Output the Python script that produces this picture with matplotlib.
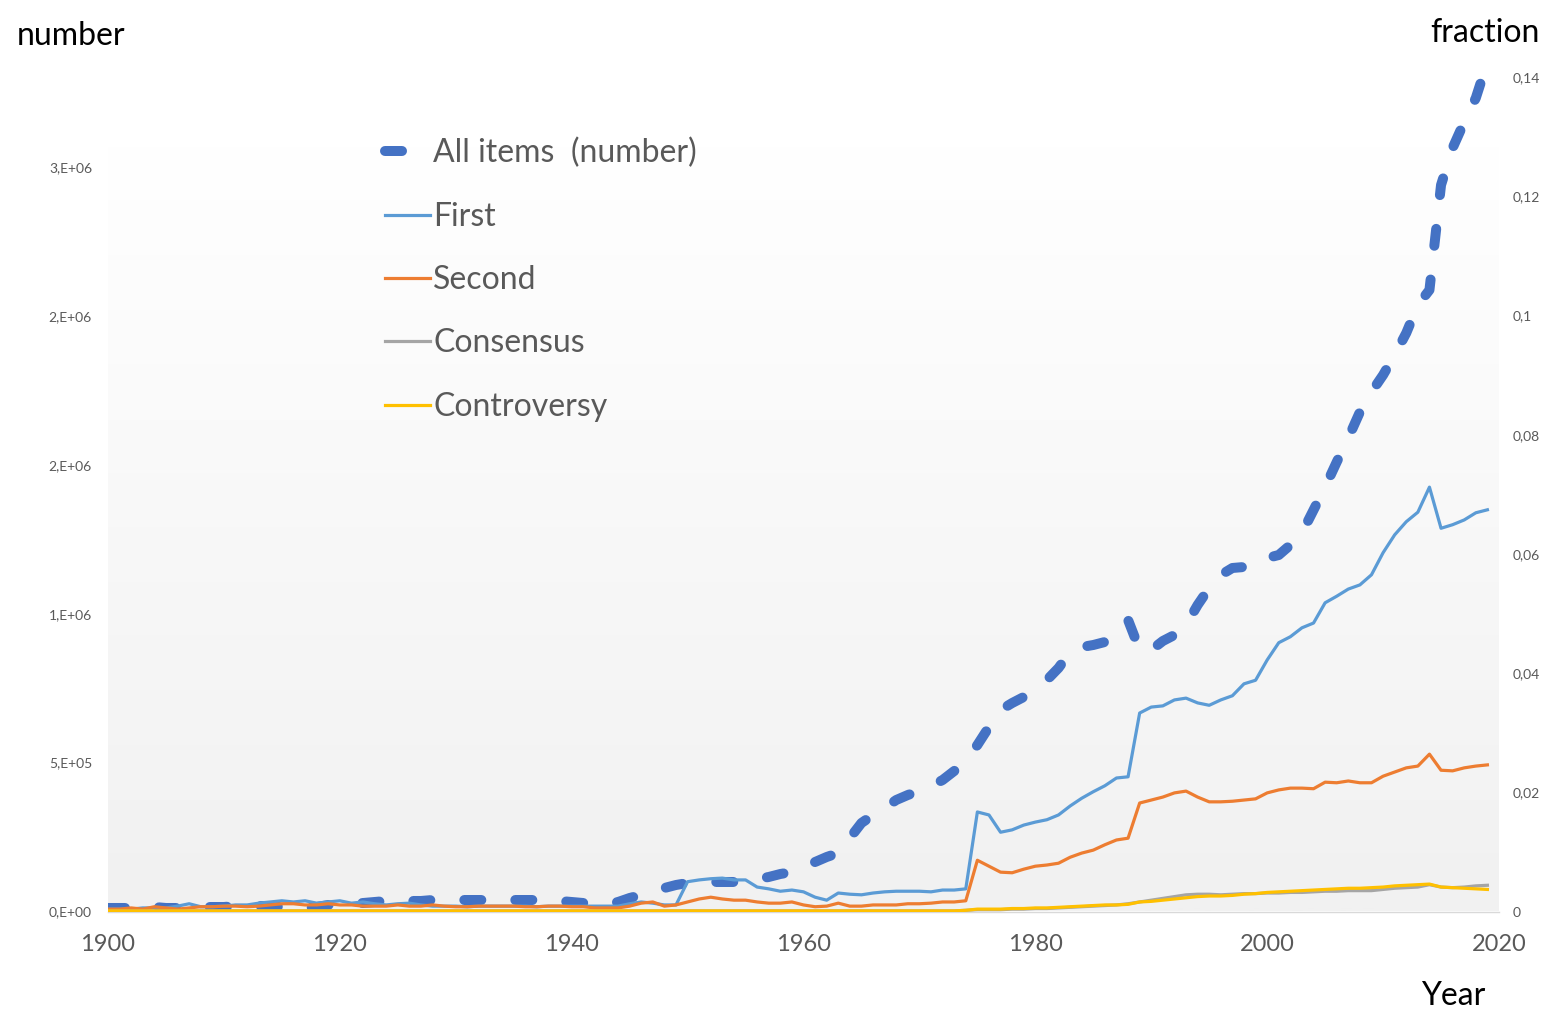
import matplotlib
matplotlib.use("Agg")
import matplotlib.pyplot as plt
import numpy as np
from matplotlib.lines import Line2D
from matplotlib.colors import LinearSegmentedColormap

plt.rcParams['font.family'] = ['Lato', 'DejaVu Sans']

# ---------------- data ----------------
years = list(range(1900, 2020))

all_items = [
    11800, 11800, 11800, 11800, 15100, 11800, 11800, 15100, 15100, 15100,   # 1900-1909
    15100, 18500, 18500, 18500, 18500, 15100, 11800, 11800, 15100, 21800,   # 1910-1919
    25200, 28500, 28500, 31900, 35300, 35300, 35300, 35300, 38600, 38600,   # 1920-1929
    38600, 38600, 38600, 38600, 38600, 38600, 38600, 38600, 38600, 35300,   # 1930-1939
    31900, 28500, 25200, 25200, 31900, 45300, 55400, 68800, 78900, 89000,   # 1940-1949
    95700, 99100, 99100, 99100, 99100, 102400, 109100, 115900, 125900, 132600,  # 1950-1959
    142700, 166200, 183000, 196400, 246800, 297200, 324000, 347600, 374400, 391200,  # 1960-1969
    404700, 421400, 441600, 471800, 508700, 559100, 619500, 676600, 700100, 720300,  # 1970-1979
    743800, 777400, 817700, 871400, 888200, 894900, 905000, 945300, 978900, 878100,  # 1980-1989
    878100, 908300, 928500, 962100, 1029200, 1086300, 1130000, 1153500, 1156800, 1163500,  # 1990-1999
    1187000, 1197100, 1230700, 1271000, 1348200, 1425400, 1509400, 1590000, 1677300, 1744400,  # 2000-2009
    1801500, 1868700, 1942600, 2036600, 2087000, 2439600, 2563900, 2651200, 2731800, 2852700,  # 2010-2019
]

first = [
    0.0004, 0.0004, 0.0004, 0.0006, 0.0006, 0.0006, 0.0009, 0.0013, 0.0008, 0.0008,
    0.0009, 0.0011, 0.0011, 0.0014, 0.0016, 0.0018, 0.0016, 0.0018, 0.0014, 0.0016,
    0.0018, 0.0014, 0.0016, 0.0013, 0.0011, 0.0013, 0.0014, 0.0011, 0.0009, 0.0009,
    0.0009, 0.0008, 0.0009, 0.0009, 0.0009, 0.0009, 0.0009, 0.0008, 0.0009, 0.0009,
    0.0009, 0.0009, 0.0009, 0.0009, 0.0009, 0.0013, 0.0016, 0.0014, 0.0011, 0.0011,
    0.0050, 0.0053, 0.0055, 0.0056, 0.0053, 0.0053, 0.0041, 0.0038, 0.0034, 0.0036,
    0.0033, 0.0024, 0.0019, 0.0031, 0.0029, 0.0028, 0.0031, 0.0033, 0.0034, 0.0034,
    0.0034, 0.0033, 0.0036, 0.0036, 0.0038, 0.0167, 0.0162, 0.0133, 0.0137, 0.0145,
    0.0150, 0.0154, 0.0162, 0.0177, 0.0190, 0.0201, 0.0211, 0.0224, 0.0226, 0.0333,
    0.0343, 0.0345, 0.0355, 0.0358, 0.0350, 0.0346, 0.0355, 0.0362, 0.0382, 0.0388,
    0.0422, 0.0451, 0.0461, 0.0476, 0.0484, 0.0518, 0.0529, 0.0541, 0.0548, 0.0565,
    0.0602, 0.0632, 0.0654, 0.0670, 0.0712, 0.0643, 0.0649, 0.0657, 0.0669, 0.0674,
]

second = [
    0.0004, 0.0004, 0.0006, 0.0004, 0.0008, 0.0006, 0.0004, 0.0006, 0.0008, 0.0008,
    0.0009, 0.0009, 0.0008, 0.0009, 0.0011, 0.0013, 0.0013, 0.0011, 0.0011, 0.0013,
    0.0011, 0.0011, 0.0009, 0.0009, 0.0009, 0.0011, 0.0009, 0.0009, 0.0011, 0.0009,
    0.0008, 0.0008, 0.0009, 0.0009, 0.0009, 0.0009, 0.0008, 0.0008, 0.0009, 0.0009,
    0.0008, 0.0008, 0.0006, 0.0006, 0.0006, 0.0009, 0.0014, 0.0016, 0.0009, 0.0011,
    0.0016, 0.0021, 0.0024, 0.0021, 0.0019, 0.0019, 0.0016, 0.0014, 0.0014, 0.0016,
    0.0011, 0.0008, 0.0009, 0.0014, 0.0009, 0.0009, 0.0011, 0.0011, 0.0011, 0.0013,
    0.0013, 0.0014, 0.0016, 0.0016, 0.0018, 0.0086, 0.0076, 0.0066, 0.0065, 0.0071,
    0.0076, 0.0078, 0.0081, 0.0091, 0.0098, 0.0103, 0.0112, 0.0120, 0.0123, 0.0182,
    0.0187, 0.0192, 0.0199, 0.0202, 0.0192, 0.0184, 0.0184, 0.0185, 0.0187, 0.0189,
    0.0199, 0.0204, 0.0207, 0.0207, 0.0206, 0.0217, 0.0216, 0.0219, 0.0216, 0.0216,
    0.0227, 0.0234, 0.0241, 0.0244, 0.0264, 0.0237, 0.0236, 0.0241, 0.0244, 0.0246,
]

consensus = [0.0001] * 74 + [
    0.0002, 0.0003, 0.0003, 0.0003, 0.0004, 0.0004,                          # 1974-1979
    0.0005, 0.0005, 0.0006, 0.0007, 0.0008, 0.0009, 0.0010, 0.0011, 0.0013, 0.0016,  # 1980-1989
    0.0019, 0.0022, 0.0025, 0.0028, 0.0029, 0.0029, 0.0028, 0.0029, 0.0030, 0.0030,  # 1990-1999
    0.0031, 0.0031, 0.0032, 0.0032, 0.0033, 0.0034, 0.0034, 0.0035, 0.0035, 0.0035,  # 2000-2009
    0.0037, 0.0039, 0.0040, 0.0041, 0.0045, 0.0041, 0.0040, 0.0041, 0.0043, 0.0044,  # 2010-2019
]

controversy = [0.0001] * 74 + [
    0.0002, 0.0004, 0.0004, 0.0004, 0.0005, 0.0005,
    0.0006, 0.0006, 0.0007, 0.0008, 0.0009, 0.0010, 0.0011, 0.0011, 0.0012, 0.0016,
    0.0017, 0.0019, 0.0021, 0.0023, 0.0025, 0.0026, 0.0026, 0.0027, 0.0029, 0.0030,
    0.0032, 0.0033, 0.0034, 0.0035, 0.0036, 0.0037, 0.0038, 0.0039, 0.0039, 0.0040,
    0.0041, 0.0043, 0.0044, 0.0045, 0.0046, 0.0041, 0.0040, 0.0039, 0.0038, 0.0037,
]

series_names = ["All items  (number)", "First", "Second", "Consensus", "Controversy"]

x_ticks = [1900, 1920, 1940, 1960, 1980, 2000, 2020]
left_ticks = [0, 500000, 1000000, 1500000, 2000000, 2500000]
left_tick_labels = ["0,E+00", "5,E+05", "1,E+06", "2,E+06", "2,E+06", "3,E+06"]
right_ticks = [0, 0.02, 0.04, 0.06, 0.08, 0.10, 0.12, 0.14]
right_tick_labels = ["0", "0,02", "0,04", "0,06", "0,08", "0,1", "0,12", "0,14"]

# ---------------- figure ----------------
W, H = 1559, 1022
fig = plt.figure(figsize=(W / 100, H / 100), dpi=100)

ax_left, ax_right_px, ax_top, ax_bottom = 108, 1499, 40, 911.5
pos = [ax_left / W, 1 - ax_bottom / H, (ax_right_px - ax_left) / W, (ax_bottom - ax_top) / H]

# gradient background of plot area
bg = fig.add_axes(pos, zorder=0)
bg.axis('off')
t = np.linspace(0, 1, 400).reshape(-1, 1)
grad = np.clip((t - 0.12) / 0.88, 0, 1)
cmap = LinearSegmentedColormap.from_list('bgc', ['#FFFFFF', '#F1F1F1'])
bg.imshow(grad, aspect='auto', cmap=cmap, vmin=0, vmax=1, extent=(0, 1, 0, 1), origin='upper')
bg.set_xlim(0, 1)
bg.set_ylim(0, 1)

ax = fig.add_axes(pos, zorder=1)
ax.patch.set_visible(False)
ax2 = ax.twinx()
ax2.patch.set_visible(False)

c_all, c_first, c_second, c_cons, c_contr = '#4472C4', '#5B9BD5', '#ED7D31', '#A5A5A5', '#FFC000'

l_all, = ax.plot(years, all_items, color=c_all, lw=7.2, dashes=(1.7, 3.4),
                 dash_capstyle='round', dash_joinstyle='round', solid_capstyle='round')
l1, = ax2.plot(years, first, color=c_first, lw=2.3, solid_joinstyle='round')
l2, = ax2.plot(years, second, color=c_second, lw=2.3, solid_joinstyle='round')
l3, = ax2.plot(years, consensus, color=c_cons, lw=2.3, solid_joinstyle='round')
l4, = ax2.plot(years, controversy, color=c_contr, lw=2.3, solid_joinstyle='round')

ax.set_xlim(1900, 2020)
ax.set_ylim(0, (ax_bottom - ax_top) / 148.9 * 500000)
ax2.set_ylim(0, (ax_bottom - ax_top) / 119.2 * 0.02)

tick_color = '#595959'
ax.set_xticks(x_ticks)
ax.set_xticklabels([str(v) for v in x_ticks])
ax.set_yticks(left_ticks)
ax.set_yticklabels(left_tick_labels)
ax2.set_yticks(right_ticks)
ax2.set_yticklabels(right_tick_labels)

ax.tick_params(axis='x', length=0, pad=16, labelsize=17, labelcolor=tick_color)
ax.tick_params(axis='y', length=0, pad=11.5, labelsize=10, labelcolor=tick_color)
ax2.tick_params(axis='y', length=0, pad=10, labelsize=10, labelcolor=tick_color)

for s in ['top', 'left', 'right']:
    ax.spines[s].set_visible(False)
ax.spines['bottom'].set_color('#D9D9D9')
ax.spines['bottom'].set_linewidth(1.0)
for s in ax2.spines.values():
    s.set_visible(False)

# axis titles
fig.text(71 / W, 1 - 45 / H, "number", ha='center', va='baseline', fontsize=23, color='black')
fig.text(1485 / W, 1 - 42 / H, "fraction", ha='center', va='baseline', fontsize=23, color='black')
fig.text(1453 / W, 1 - 1005 / H, "Year", ha='center', va='baseline', fontsize=23, color='black')

# legend
h_all = Line2D([], [], color=c_all, lw=7.2, dashes=(1.7, 3.4), dash_capstyle='round')
leg = fig.legend([h_all, l1, l2, l3, l4], series_names,
                 loc='upper left', bbox_to_anchor=(385 / W, 1 - 138 / H),
                 frameon=False, fontsize=23, handlelength=1.41, handletextpad=0.1,
                 labelspacing=1.043, borderpad=0, borderaxespad=0, labelcolor=tick_color)

fig.savefig('out.png', dpi=100)
